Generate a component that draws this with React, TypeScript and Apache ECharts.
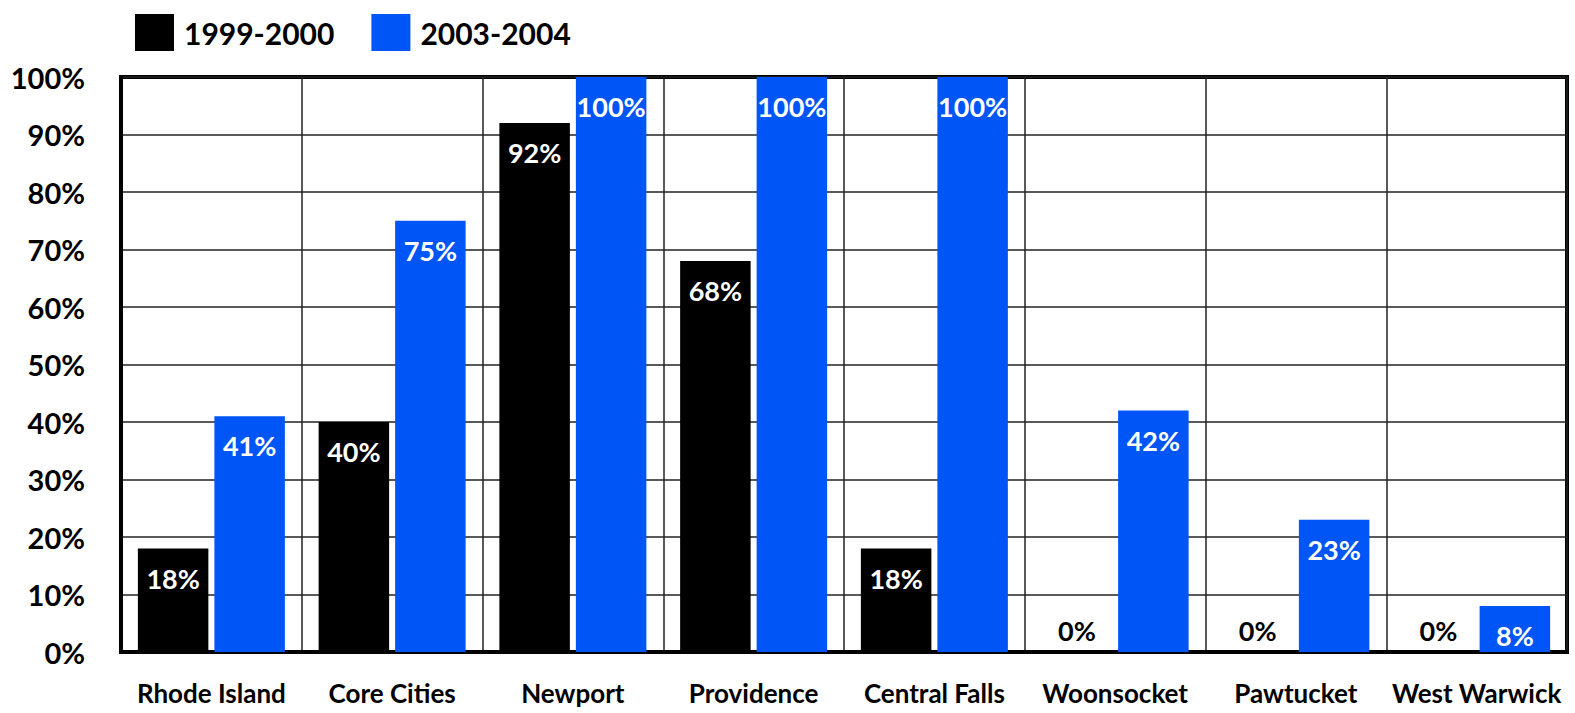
import React, { useEffect, useRef } from "react";
import * as echarts from "echarts";

const categories = ["Rhode Island", "Core Cities", "Newport", "Providence", "Central Falls", "Woonsocket", "Pawtucket", "West Warwick"];
const series1999 = [18, 40, 92, 68, 18, 0, 0, 0];
const series2003 = [41, 75, 100, 100, 100, 42, 23, 8];
const seriesNames = ["1999-2000", "2003-2004"];

const FONT = "Lato";

function buildData(values: number[]) {
  return values.map((v) =>
    v === 0
      ? { value: v, label: { position: "top", color: "#000", distance: 8 } }
      : { value: v }
  );
}

export default function App() {
  const ref = useRef<HTMLDivElement>(null);
  useEffect(() => {
    if (!ref.current) return;
    const chart = echarts.init(ref.current, null, { renderer: "svg" });
    const labelCommon = {
      show: true,
      position: "insideTop",
      distance: 16,
      color: "#fff",
      fontFamily: FONT,
      fontWeight: "bold",
      fontSize: 27,
      formatter: "{c}%",
    };
    chart.setOption({
      animation: false,
      backgroundColor: "#fff",
      legend: {
        left: 130,
        top: 9,
        itemWidth: 39,
        itemHeight: 37,
        itemGap: 37,
        icon: "rect",
        textStyle: {
          fontFamily: FONT,
          fontWeight: "bold",
          fontSize: 30,
          color: "#000",
          padding: [0, 0, 0, 5],
        },
        data: seriesNames,
      },
      grid: {
        left: 121,
        top: 77,
        width: 1446,
        height: 575,
        show: true,
        borderColor: "#000",
        borderWidth: 4,
        containLabel: false,
      },
      xAxis: {
        type: "category",
        data: categories,
        axisLine: { show: true, lineStyle: { color: "#000", width: 4 } },
        axisTick: { show: false },
        splitLine: { show: true, lineStyle: { color: "#222", width: 1.5 } },
        axisLabel: {
          margin: 28,
          color: "#000",
          fontFamily: FONT,
          fontWeight: "bold",
          fontSize: 26,
          interval: 0,
        },
      },
      yAxis: {
        type: "value",
        min: 0,
        max: 100,
        interval: 10,
        axisLine: { show: true, lineStyle: { color: "#000", width: 4 } },
        axisTick: { show: false },
        splitLine: { show: true, lineStyle: { color: "#222", width: 1.5 } },
        axisLabel: {
          margin: 36,
          color: "#000",
          fontFamily: FONT,
          fontWeight: "bold",
          fontSize: 29,
          formatter: "{value}%",
        },
      },
      series: [
        {
          name: seriesNames[0],
          type: "bar",
          data: buildData(series1999),
          barWidth: 70.5,
          barGap: "8.5%",
          itemStyle: { color: "#000000" },
          label: labelCommon,
        },
        {
          name: seriesNames[1],
          type: "bar",
          data: buildData(series2003),
          barWidth: 70.5,
          barGap: "8.5%",
          itemStyle: { color: "#0055F6" },
          label: labelCommon,
        },
      ],
    });
    return () => chart.dispose();
  }, []);
  return (
    <div
      ref={ref}
      style={{ position: "fixed", left: 0, top: 0, width: 1575, height: 713 }}
    />
  );
}
